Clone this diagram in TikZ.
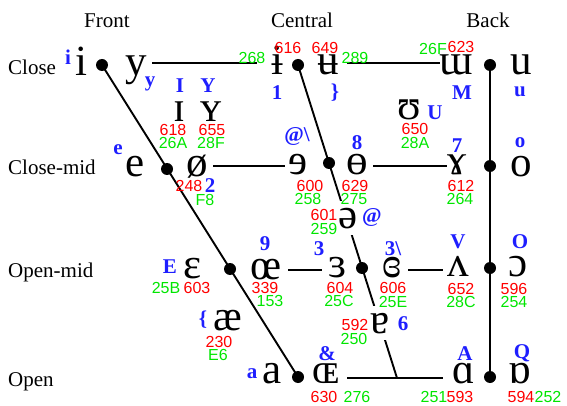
\documentclass[tikz,border=0pt]{standalone}
\usepackage{fontspec}
\setmainfont{Liberation Serif}
\newfontfamily\ipafont{Liberation Serif}
\newfontfamily\numfont{Liberation Sans}
\usetikzlibrary{calc}
\pgfdeclarelayer{bg}
\pgfsetlayers{bg,main}
\definecolor{lblue}{RGB}{30,30,255}
\definecolor{lred}{RGB}{255,0,0}
\definecolor{lgreen}{RGB}{0,230,0}
\begin{document}
\begin{tikzpicture}[x=1pt,y=-1pt,
 ipa/.style={anchor=base, inner sep=0pt, font=\ipafont\fontsize{43}{43}\selectfont},
 ipaw/.style={ipa, fill=white, inner xsep=2pt, inner ysep=7pt},
 sampa/.style={anchor=base, inner sep=0pt, text=lblue, font=\bfseries\fontsize{21}{21}\selectfont},
 dec/.style={inner sep=0pt, text=lred, font=\numfont\fontsize{16}{16}\selectfont},
 hex/.style={inner sep=0pt, text=lgreen, font=\numfont\fontsize{16}{16}\selectfont},
 hdr/.style={anchor=base, inner sep=0pt, font=\fontsize{21}{21}\selectfont},
 rowlab/.style={anchor=base west, inner sep=0pt, font=\fontsize{21}{21}\selectfont},
 vdot/.style={circle, fill=black, inner sep=0pt, minimum size=12pt},
 chart/.style={line width=1.9pt},
 hl/.style={line width=1.4pt}]
\useasboundingbox (0,0) rectangle (567,406);
% headers
\node[hdr] (hF) at (107,28) {Front};
\node[hdr] (hC) at (302,28) {Central};
\node[hdr] (hB) at (488,28) {Back};
\node[rowlab] (rl1) at (8,75) {Close};
\node[rowlab] (rl2) at (8,175) {Close-mid};
\node[rowlab] (rl3) at (8,277) {Open-mid};
\node[rowlab] (rl4) at (8,386) {Open};
% dots
\node[vdot] (dFc) at (102,65) {};
\node[vdot] (dCc) at (298,65) {};
\node[vdot] (dBc) at (490,65) {};
\node[vdot] (dFcm) at (167,169) {};
\node[vdot] (dCcm) at (329,163) {};
\node[vdot] (dBcm) at (490,166) {};
\node[vdot] (dFom) at (230,269) {};
\node[vdot] (dCom) at (362,268) {};
\node[vdot] (dBom) at (490,268) {};
\node[vdot] (dFo) at (298,377) {};
\node[vdot] (dBo) at (490,377) {};
\coordinate (cEnd) at (397,378);
\coordinate (rC) at (0,63);
\coordinate (rCM) at (0,166);
\coordinate (rOM) at (0,270);
\coordinate (rO) at (0,378);
% IPA symbols
\node[ipa] (n-i) at (81,76) {i};
\node[ipa] (n-y) at (136,76) {y};
\node[ipa] (n-bi) at (277,75) {ɨ};
\node[ipa] (n-bu) at (328,75) {ʉ};
\node[ipa] (n-mm) at (456,75) {ɯ};
\node[ipa] (n-u) at (521,75) {u};
\node[ipa] (n-I) at (179,122) {ɪ};
\node[ipa] (n-Y) at (211,122) {ʏ};
\node[ipa] (n-U) at (409,120) {ʊ};
\node[ipa] (n-e) at (135,176) {e};
\node[ipa] (n-oe) at (197,176) {ø};
\node[ipa] (n-re) at (298,175) {ɘ};
\node[ipa] (n-bo) at (357,175) {ɵ};
\node[ipa] (n-ga) at (457,175) {ɤ};
\node[ipa] (n-o) at (521,176) {o};
\node[ipaw] (n-sw) at (348,228) {ə};
\node[ipa] (n-E) at (193,278) {ɛ};
\node[ipa] (n-9) at (266,279) {œ};
\node[ipa] (n-3) at (338,277) {ɜ};
\node[ipa] (n-3r) at (392,277) {ɞ};
\node[ipa] (n-V) at (458,276) {ʌ};
\node[ipa] (n-O) at (518,276) {ɔ};
\node[ipa] (n-ae) at (228,330) {æ};
\node[ipaw] (n-6) at (380,333) {ɐ};
\node[ipa] (n-a) at (272,383) {a};
\node[ipa] (n-OE) at (326,383) {ɶ};
\node[ipa] (n-A) at (464,383) {ɑ};
\node[ipa] (n-Q) at (520,383) {ɒ};
% lines
\begin{pgfonlayer}{bg}
\draw[chart] (dFc.center) -- (dFo.center);
\draw[chart] (dCc.center) -- (cEnd);
\draw[chart] (dBc.center) -- (dBo.center);
\draw[hl] ($(n-y.base |- rC)+(16,0)$) -- ($(n-bi.base |- rC)+(-20,0)$);
\draw[hl] ($(n-bu.base |- rC)+(19,0)$) -- ($(n-mm.base |- rC)+(-16,0)$);
\draw[hl] ($(n-oe.base |- rCM)+(16,0)$) -- ($(n-re.base |- rCM)+(-13,0)$);
\draw[hl] ($(n-bo.base |- rCM)+(16,0)$) -- ($(n-ga.base |- rCM)+(-10,0)$);
\draw[hl] ($(n-9.base |- rOM)+(22,0)$) -- ($(n-3.base |- rOM)+(-16,0)$);
\draw[hl] ($(n-3r.base |- rOM)+(16,0)$) -- ($(n-V.base |- rOM)+(-15,0)$);
\draw[hl] ($(n-OE.base |- rO)+(21,0)$) -- ($(n-A.base |- rO)+(-21,0)$);
\end{pgfonlayer}
% blue labels
\node[sampa] (s-i) at (68,65) {i};
\node[sampa] (s-y) at (150,87) {y};
\node[sampa] (s-I) at (180,93) {I};
\node[sampa] (s-Y) at (208,93) {Y};
\node[sampa] (s-1) at (277,100) {1};
\node[sampa] (s-rb) at (335,99) {\}};
\node[sampa] (s-M) at (462,100) {M};
\node[sampa] (s-u) at (520,97) {u};
\node[sampa] (s-U) at (435,120) {U};
\node[sampa] (s-at1) at (297,142) {@\textbackslash};
\node[sampa] (s-e) at (118,155) {e};
\node[sampa] (s-8) at (357,150) {8};
\node[sampa] (s-7) at (457,153) {7};
\node[sampa] (s-o) at (520,148) {o};
\node[sampa] (s-2) at (210,193) {2};
\node[sampa] (s-at) at (372,222) {@};
\node[sampa] (s-9) at (265,250) {9};
\node[sampa] (s-3) at (319,255) {3};
\node[sampa] (s-3r) at (393,255) {3\textbackslash};
\node[sampa] (s-V) at (458,248) {V};
\node[sampa] (s-O) at (520,248) {O};
\node[sampa] (s-E) at (170,273) {E};
\node[sampa] (s-lb) at (203,325) {\{};
\node[sampa] (s-6) at (403,330) {6};
\node[sampa] (s-a) at (252,378) {a};
\node[sampa] (s-amp) at (327,360) {\&};
\node[sampa] (s-A) at (465,360) {A};
\node[sampa] (s-Q) at (522,358) {Q};
% decimal codes
\node[dec] (c616) at (288,48) {616};
\node[dec] (c649) at (325,48) {649};
\node[dec] (c623) at (461,47) {623};
\node[dec] (c618) at (173,130) {618};
\node[dec] (c655) at (212,130) {655};
\node[dec] (c650) at (415,129) {650};
\node[dec] (c248) at (189,186) {248};
\node[dec] (c600) at (310,186) {600};
\node[dec] (c629) at (355,186) {629};
\node[dec] (c612) at (461,186) {612};
\node[dec] (c601) at (324,215) {601};
\node[dec] (c603) at (197,288) {603};
\node[dec] (c339) at (265,288) {339};
\node[dec] (c604) at (340,288) {604};
\node[dec] (c606) at (393,288) {606};
\node[dec] (c652) at (461,289) {652};
\node[dec] (c596) at (514,289) {596};
\node[dec] (c230) at (219,342) {230};
\node[dec] (c592) at (355,325) {592};
\node[dec] (c630) at (324,397) {630};
\node[dec] (c593) at (460,397) {593};
\node[dec] (c594) at (521,397) {594};
% hex codes
\node[hex] (h268) at (252,58) {268};
\node[hex] (h289) at (355,58) {289};
\node[hex] (h26F) at (433,49) {26F};
\node[hex] (h26A) at (173,143) {26A};
\node[hex] (h28F) at (211,143) {28F};
\node[hex] (h28A) at (415,143) {28A};
\node[hex] (hF8) at (205,200) {F8};
\node[hex] (h258) at (308,199) {258};
\node[hex] (h275) at (354,199) {275};
\node[hex] (h264) at (460,199) {264};
\node[hex] (h259) at (324,229) {259};
\node[hex] (h25B) at (166,288) {25B};
\node[hex] (h153) at (270,301) {153};
\node[hex] (h25C) at (339,301) {25C};
\node[hex] (h25E) at (393,302) {25E};
\node[hex] (h28C) at (461,302) {28C};
\node[hex] (h254) at (514,302) {254};
\node[hex] (hE6) at (218,355) {E6};
\node[hex] (h250) at (354,339) {250};
\node[hex] (h276) at (357,397) {276};
\node[hex] (h251) at (434,397) {251};
\node[hex] (h252) at (548,397) {252};
\end{tikzpicture}
\end{document}
